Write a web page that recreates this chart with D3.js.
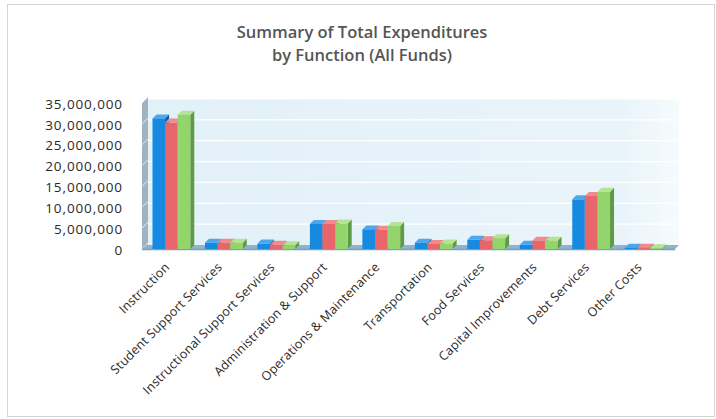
<!doctype html>
<html>
  <head>
    <meta charset="utf-8">
    <title>Summary of Total Expenditures by Function (All Funds)</title>
    <script src="https://cdnjs.cloudflare.com/ajax/libs/d3/7.8.5/d3.min.js"></script>
    <style>
      body { margin: 0; background: #fff; }
      svg { display: block; font-family: "Open Sans", "Noto Sans", sans-serif; }
    </style>
  </head>
  <body>
    <div id="chart"></div>
    <script>
      // categories and the three yearly series (values in dollars)
      const categories = [
        'Instruction', 'Student Support Services', 'Instructional Support Services',
        'Administration & Support', 'Operations & Maintenance', 'Transportation',
        'Food Services', 'Capital Improvements', 'Debt Services', 'Other Costs'
      ];
      const seriesBlue  = [31300000, 1500000, 1300000, 6000000, 4700000, 1500000, 2200000, 1000000, 11900000, 300000];
      const seriesRed   = [30300000, 1500000, 1000000, 6000000, 4600000, 1200000, 2100000, 2000000, 12700000, 300000];
      const seriesGreen = [32200000, 1500000,  900000, 6100000, 5500000, 1300000, 2600000, 2000000, 13700000, 200000];
      const yTicks = [0, 5000000, 10000000, 15000000, 20000000, 25000000, 30000000, 35000000];

      const series = [
        { name: 'blue',  values: seriesBlue,  front: '#1689e0', side: '#0b5d9e', top: '#4aa8ee' },
        { name: 'red',   values: seriesRed,   front: '#e8656a', side: '#a8454a', top: '#f08a8e' },
        { name: 'green', values: seriesGreen, front: '#93d46c', side: '#5f9a45', top: '#b3e493' }
      ];

      const W = 716, H = 419;
      const depthX = 4, depthY = -4;

      const svg = d3.select('#chart').append('svg')
        .attr('width', W).attr('height', H);

      // outer frame
      svg.append('rect')
        .attr('x', 7.5).attr('y', 4.5)
        .attr('width', 707).attr('height', 412)
        .attr('fill', '#fff').attr('stroke', '#d4d4d4');

      // title
      const title = svg.append('text')
        .attr('x', 362).attr('text-anchor', 'middle')
        .attr('fill', '#555').attr('font-size', 16.5).attr('font-weight', 600);
      title.append('tspan').attr('x', 362).attr('y', 38).text('Summary of Total Expenditures');
      title.append('tspan').attr('x', 362).attr('y', 61).text('by Function (All Funds)');

      const x = d3.scaleBand().domain(categories).range([142, 673]).paddingInner(0.28).paddingOuter(0.2);
      const xs = d3.scaleBand().domain(series.map(s => s.name)).range([0, x.bandwidth()]);
      const y = d3.scaleLinear().domain([0, 35000000]).range([249, 103]);

      const defs = svg.append('defs');
      const grad = defs.append('linearGradient').attr('id', 'wall').attr('x1', 0).attr('x2', 1).attr('y1', 0).attr('y2', 0);
      grad.append('stop').attr('offset', '0%').attr('stop-color', '#e2f0f8');
      grad.append('stop').attr('offset', '90%').attr('stop-color', '#e9f4fa');
      grad.append('stop').attr('offset', '100%').attr('stop-color', '#f7fbfd');

      const x0 = x.range()[0], x1 = x.range()[1];
      const y0 = y(0), yTop = y(35000000);

      // back wall
      svg.append('rect')
        .attr('x', x0 + depthX).attr('y', yTop + depthY)
        .attr('width', x1 - x0 + 2).attr('height', y0 - yTop)
        .attr('fill', 'url(#wall)');

      // gridlines on the back wall
      svg.append('g').selectAll('line')
        .data(yTicks.slice(1))
        .join('line')
        .attr('x1', x0 + depthX).attr('x2', x1 + depthX)
        .attr('y1', d => y(d) + depthY).attr('y2', d => y(d) + depthY)
        .attr('stroke', '#ffffff').attr('stroke-width', 1.2);

      // left side wall
      svg.append('path')
        .attr('d', `M${x0},${yTop} L${x0 + depthX + 2},${yTop + depthY - 2} L${x0 + depthX + 2},${y0 + depthY} L${x0},${y0} Z`)
        .attr('fill', '#9fb3c0');
      svg.append('g').selectAll('line')
        .data(yTicks)
        .join('line')
        .attr('x1', x0).attr('x2', x0 + depthX + 2)
        .attr('y1', d => y(d)).attr('y2', d => y(d) + depthY - 2)
        .attr('stroke', '#e6eef3').attr('stroke-width', 1);

      // floor
      svg.append('path')
        .attr('d', `M${x0},${y0} L${x0 + depthX},${y0 + depthY} L${x1 + depthX + 2},${y0 + depthY} L${x1 + 2},${y0} Z`)
        .attr('fill', '#8fb3cc');
      svg.append('line')
        .attr('x1', x0).attr('x2', x1 + 2).attr('y1', y0 + 0.5).attr('y2', y0 + 0.5)
        .attr('stroke', '#7aa0bd').attr('stroke-width', 1.5);

      // y axis labels
      svg.append('g').selectAll('text')
        .data(yTicks)
        .join('text')
        .attr('x', 123).attr('y', d => y(d) + 1)
        .attr('dy', '0.35em').attr('text-anchor', 'end')
        .attr('fill', '#2a2a2a').attr('font-size', 13.5).attr('letter-spacing', 0.9)
        .text(d => d3.format(',')(d));

      // 3D bars
      const groups = svg.append('g').selectAll('g')
        .data(categories)
        .join('g')
        .attr('transform', d => `translate(${x(d)},0)`);

      series.forEach(s => {
        const bw = xs.bandwidth();
        groups.append('path')
          .attr('d', (d, i) => {
            const bx = xs(s.name) + bw, by = y(s.values[i]);
            return `M${bx},${by} L${bx + depthX},${by + depthY} L${bx + depthX},${y0 + depthY} L${bx},${y0} Z`;
          })
          .attr('fill', s.side);
        groups.append('path')
          .attr('d', (d, i) => {
            const bx = xs(s.name), by = y(s.values[i]);
            return `M${bx},${by} L${bx + depthX},${by + depthY} L${bx + bw + depthX},${by + depthY} L${bx + bw},${by} Z`;
          })
          .attr('fill', s.top);
        groups.append('rect')
          .attr('x', xs(s.name))
          .attr('y', (d, i) => y(s.values[i]))
          .attr('width', bw)
          .attr('height', (d, i) => y0 - y(s.values[i]))
          .attr('fill', s.front);
      });

      // rotated category labels
      svg.append('g').selectAll('text')
        .data(categories)
        .join('text')
        .attr('transform', d => `translate(${x(d) + x.bandwidth() / 2 - 1},${y0 + 19}) rotate(-45)`)
        .attr('text-anchor', 'end')
        .attr('fill', '#2a2a2a').attr('font-size', 12.5).attr('letter-spacing', 0.2)
        .text(d => d);
    </script>
  </body>
</html>
